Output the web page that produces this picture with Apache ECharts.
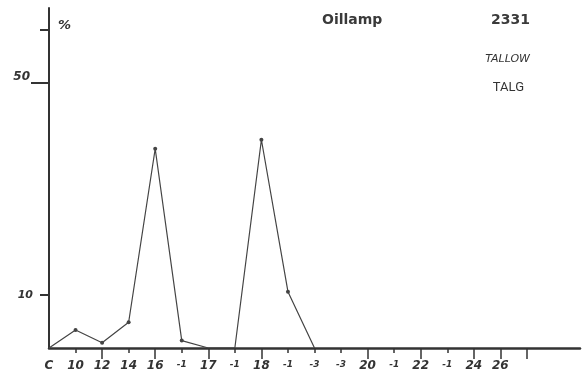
<!DOCTYPE html>
<html>
<head>
<meta charset="utf-8">
<script src="https://cdn.jsdelivr.net/npm/echarts@6/dist/echarts.min.js"></script>
<style>html,body{margin:0;padding:0;background:#fff}#c{width:583px;height:378px}</style>
</head>
<body>
<div id="c"></div>
<script>
// Carbon-number categories along the x axis (as written on the chart)
const categories = ['C', '10', '12', '14', '16', '-1', '17', '-1', '18', '-1', '-3', '-3', '20', '-1', '22', '-1', '24', '26', '', '', ''];
// Percentage values per category (null = not drawn)
const values = [0, 3.4, 1.0, 4.85, 37.5, 1.4, 0, 0, 39.2, 10.6, 0, null, null, null, null, null, null, null, null, null, null];
// Y axis tick values and labels
const yTicksShort = [10, 60];
const yTicksLong = [50];
const yLabelsA = [10];
const yLabelsB = [50];
// Indices with long x ticks / any x ticks
const majorTickIdx = [2, 4, 6, 8, 12, 14, 16, 17, 18];
const lastTickIdx = 18;

const ink = '#333';
const chart = echarts.init(document.getElementById('c'), null, {renderer: 'canvas'});
const seriesData = values.map(v => (v === 0 ? {value: v, symbol: 'none'} : v));

chart.setOption({
  backgroundColor: '#fff',
  animation: false,
  title: [
    {text: 'Oillamp', left: 322, top: 13, padding: 0, textStyle: {fontFamily: 'DejaVu Sans', fontWeight: 'bold', fontSize: 14, color: '#3a3a3a'}},
    {text: '2331', right: 53, top: 13, padding: 0, textStyle: {fontFamily: 'DejaVu Sans', fontWeight: 'bold', fontSize: 14, color: '#3a3a3a'}},
    {text: 'TALLOW', right: 53, top: 54, padding: 0, textStyle: {fontFamily: 'DejaVu Sans', fontStyle: 'italic', fontWeight: 'normal', fontSize: 11, color: '#333'}},
    {text: 'TALG', right: 59, top: 81, padding: 0, textStyle: {fontFamily: 'Roboto', fontWeight: 'normal', fontSize: 13, color: '#333'}},
    {text: '%', left: 58, top: 19, padding: 0, textStyle: {fontFamily: 'DejaVu Sans', fontStyle: 'italic', fontWeight: 'bold', fontSize: 13, color: '#333'}}
  ],
  grid: {left: 49, right: 3, top: 8, bottom: 30, containLabel: false},
  xAxis: [
    {
      type: 'category', data: categories, boundaryGap: false, position: 'bottom',
      axisLine: {show: true, lineStyle: {color: ink, width: 2.5}},
      axisTick: {show: true, length: 5, lineStyle: {color: ink, width: 1.5},
        interval: (i) => i >= 1 && i <= lastTickIdx},
      axisLabel: {
        interval: 0, margin: 12, color: ink, fontFamily: 'DejaVu Sans', fontStyle: 'italic', fontWeight: 'bold', fontSize: 12,
        formatter: (v) => (v.charAt(0) === '-' ? '{s|' + v + '}' : v),
        rich: {s: {fontSize: 9, fontFamily: 'DejaVu Sans', fontStyle: 'italic', fontWeight: 'bold', color: ink, padding: [0, 0, 5, 0]}}
      },
      splitLine: {show: false}
    },
    {
      type: 'category', data: categories, boundaryGap: false, position: 'bottom',
      axisLine: {show: false},
      axisTick: {show: true, length: 11, lineStyle: {color: ink, width: 1.5},
        interval: (i) => majorTickIdx.indexOf(i) >= 0},
      axisLabel: {show: false},
      splitLine: {show: false}
    }
  ],
  yAxis: [
    {
      type: 'value', min: 0, max: 64, position: 'left',
      axisLine: {show: true, lineStyle: {color: ink, width: 2}},
      axisTick: {show: true, length: 9, lineStyle: {color: ink, width: 2}, customValues: yTicksShort},
      axisLabel: {show: true, customValues: yLabelsA, margin: 16, color: ink, fontFamily: 'DejaVu Sans', fontStyle: 'italic', fontWeight: 'bold', fontSize: 11, padding: [0, 0, 4, 0]},
      splitLine: {show: false}
    },
    {
      type: 'value', min: 0, max: 64, position: 'left',
      axisLine: {show: false},
      axisTick: {show: true, length: 18, lineStyle: {color: ink, width: 2}, customValues: yTicksLong},
      axisLabel: {show: true, customValues: yLabelsB, margin: 19, color: ink, fontFamily: 'DejaVu Sans', fontStyle: 'italic', fontWeight: 'bold', fontSize: 12, verticalAlign: 'bottom'},
      splitLine: {show: false}
    }
  ],
  series: [{
    type: 'line', xAxisIndex: 0, yAxisIndex: 0,
    data: seriesData,
    connectNulls: false,
    symbol: 'circle', symbolSize: 4, showSymbol: true,
    itemStyle: {color: '#444'},
    lineStyle: {color: '#444', width: 1.2},
    z: 1
  }]
});
</script>
</body>
</html>
